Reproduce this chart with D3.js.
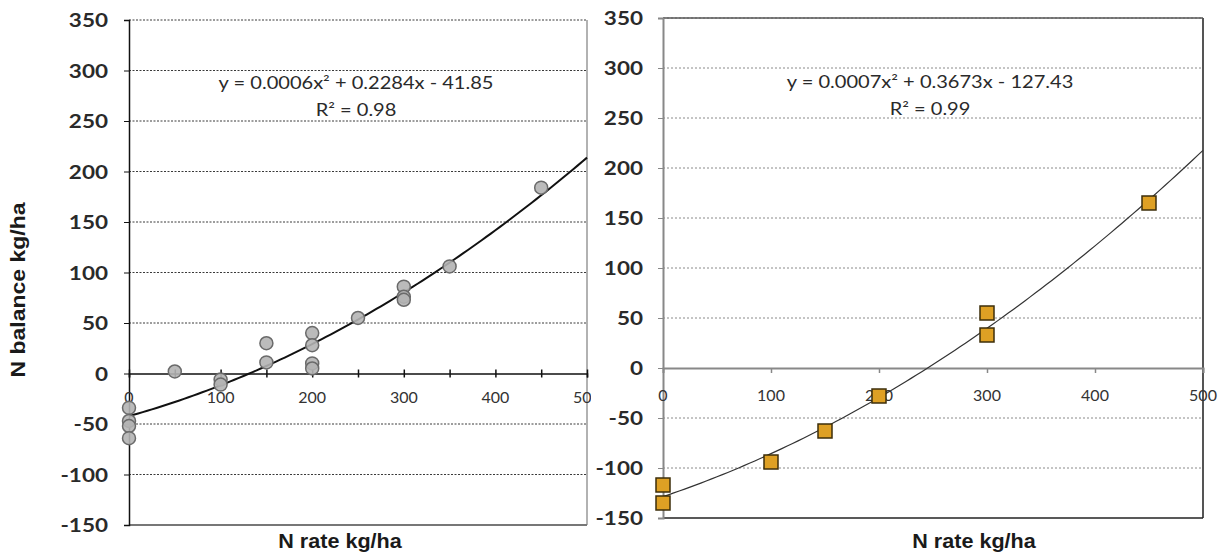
<!DOCTYPE html>
<html>
<head>
<meta charset="utf-8">
<script src="https://cdn.jsdelivr.net/npm/d3@7"></script>
<style>
  body { margin: 0; background: #fff; }
  svg { display: block; }
</style>
</head>
<body>
<svg id="chart" width="1224" height="555"></svg>
<script>
// left panel: grey circles
const leftRate = [0, 0, 0, 0, 50, 100, 100, 150, 150, 200, 200, 200, 200, 250, 300, 300, 300, 350, 450];
const leftBalance = [-34, -47, -52, -64, 2, -6, -11, 30, 11, 40, 28, 10, 5, 55, 86, 76, 73, 106, 184];
const leftEquation = "y = 0.0006x² + 0.2284x - 41.85";
const leftR2 = "R² = 0.98";

// right panel: orange squares
const rightRate = [0, 0, 100, 150, 200, 300, 300, 450];
const rightBalance = [-117, -135, -94, -63, -28, 55, 33, 165];
const rightEquation = "y = 0.0007x² + 0.3673x - 127.43";
const rightR2 = "R² = 0.99";

const yTicks = [-150, -100, -50, 0, 50, 100, 150, 200, 250, 300, 350];
const xTicks = [0, 100, 200, 300, 400, 500];
const xMinorTicks = [0, 50, 100, 150, 200, 250, 300, 350, 400, 450, 500];
const xTitle = "N rate kg/ha";
const yTitle = "N balance kg/ha";

const svg = d3.select("#chart");

// quadratic least squares, like the spreadsheet trendline
function fitQuad(xs, ys) {
  let s = [0, 0, 0, 0, 0], t = [0, 0, 0];
  xs.forEach((x, i) => {
    for (let k = 0; k < 5; k++) s[k] += Math.pow(x, k);
    for (let k = 0; k < 3; k++) t[k] += ys[i] * Math.pow(x, k);
  });
  const m = [[s[0], s[1], s[2], t[0]], [s[1], s[2], s[3], t[1]], [s[2], s[3], s[4], t[2]]];
  for (let i = 0; i < 3; i++) {
    for (let j = i + 1; j < 3; j++) {
      const f = m[j][i] / m[i][i];
      for (let k = i; k < 4; k++) m[j][k] -= f * m[i][k];
    }
  }
  const c = [0, 0, 0];
  for (let i = 2; i >= 0; i--) {
    let v = m[i][3];
    for (let k = i + 1; k < 3; k++) v -= m[i][k] * c[k];
    c[i] = v / m[i][i];
  }
  return x => c[0] + c[1] * x + c[2] * x * x;
}

// text with a horizontal stretch, the source picture is a bit wide
function label(g, x, y, txt, opts) {
  const o = Object.assign({ size: 16, weight: "normal", anchor: "middle", sx: 1, fill: "#222", family: "Lato, sans-serif", rotate: 0 }, opts);
  const t = g.append("g")
    .attr("transform", `translate(${x},${y}) rotate(${o.rotate}) scale(${o.sx},1)`)
    .append("text")
    .attr("text-anchor", o.anchor)
    .attr("dominant-baseline", "central")
    .attr("font-family", o.family)
    .attr("font-size", o.size)
    .attr("font-weight", o.weight)
    .attr("fill", o.fill)
    .text(txt);
  return t;
}

function panel(cfg) {
  const x = d3.scaleLinear().domain([0, 500]).range(cfg.xr);
  const y = d3.scaleLinear().domain([-150, 350]).range(cfg.yr);
  const g = svg.append("g");

  // gridlines
  g.selectAll(".grid")
    .data(yTicks.filter(d => d !== 0 && d !== -150))
    .join("line")
    .attr("x1", x(0)).attr("x2", x(500))
    .attr("y1", d => y(d)).attr("y2", d => y(d))
    .attr("stroke", cfg.gridColor)
    .attr("stroke-width", 1)
    .attr("stroke-dasharray", cfg.gridDash);

  // frame
  if (cfg.box) {
    g.append("line").attr("x1", x(0)).attr("x2", x(500)).attr("y1", y(350)).attr("y2", y(350))
      .attr("stroke", "#555").attr("stroke-width", 1.5);
    g.append("line").attr("x1", x(500)).attr("x2", x(500)).attr("y1", y(350)).attr("y2", y(-150))
      .attr("stroke", "#555").attr("stroke-width", 2);
    g.append("line").attr("x1", x(0)).attr("x2", x(500)).attr("y1", y(-150)).attr("y2", y(-150))
      .attr("stroke", "#222").attr("stroke-width", 1.5);
  } else {
    g.append("line").attr("x1", x(500)).attr("x2", x(500)).attr("y1", y(350)).attr("y2", y(-150))
      .attr("stroke", "#999").attr("stroke-width", 1.5);
    g.append("line").attr("x1", x(0)).attr("x2", x(500)).attr("y1", y(-150)).attr("y2", y(-150))
      .attr("stroke", "#777").attr("stroke-width", 2);
  }

  // y axis
  const yAxis = g.append("g")
    .attr("transform", `translate(${x(0)},0)`)
    .call(d3.axisLeft(y).tickValues(yTicks).tickSize(5).tickFormat(""));
  yAxis.select(".domain").attr("stroke", cfg.axisColor).attr("stroke-width", cfg.axisWidth);
  yAxis.selectAll(".tick line").attr("stroke", cfg.axisColor);
  yTicks.forEach(v => label(g, cfg.yLabelX, y(v), v, { size: 18, weight: "bold", anchor: "end", sx: 1.25, fill: "#2a2a2a" }));

  // x axis along zero
  const xAxis = g.append("g")
    .attr("transform", `translate(0,${y(0)})`)
    .call(d3.axisBottom(x).tickValues(cfg.box ? xTicks.slice(1) : xMinorTicks).tickSize(cfg.box ? 5 : 4).tickFormat(""));
  xAxis.select(".domain").attr("stroke", cfg.xAxisColor).attr("stroke-width", cfg.xAxisWidth);
  xAxis.selectAll(".tick line").attr("stroke", cfg.xAxisColor).attr("stroke-width", 1.5);
  if (!cfg.box) xAxis.selectAll(".tick line").attr("y1", -4);

  const xl = g.append("g");
  if (cfg.clipRight) {
    svg.append("clipPath").attr("id", "clipL").append("rect")
      .attr("x", 0).attr("y", 0).attr("width", cfg.clipRight).attr("height", 555);
    xl.attr("clip-path", "url(#clipL)");
  }
  xTicks.forEach(v => label(xl, x(v), y(0) + cfg.xLabelDy, v, { size: 16, fill: "#333" }));

  // trend line
  const f = fitQuad(cfg.rate, cfg.balance);
  const curve = d3.range(0, 501, 5);
  g.append("path")
    .attr("d", d3.line().x(d => x(d)).y(d => y(f(d)))(curve))
    .attr("fill", "none")
    .attr("stroke", cfg.lineColor)
    .attr("stroke-width", cfg.lineWidth);

  // points
  const pts = cfg.rate.map((r, i) => ({ r, b: cfg.balance[i] }));
  if (cfg.box) {
    g.selectAll(".pt").data(pts).join("rect")
      .attr("x", d => x(d.r) - 7).attr("y", d => y(d.b) - 7)
      .attr("width", 14).attr("height", 14)
      .attr("fill", "#dea024").attr("stroke", "#3d2e0a").attr("stroke-width", 1.5);
  } else {
    g.selectAll(".pt").data(pts).join("circle")
      .attr("cx", d => x(d.r)).attr("cy", d => y(d.b)).attr("r", 6.5)
      .attr("fill", "#b4b4b4").attr("stroke", "#6a6a6a").attr("stroke-width", 1.5)
      .attr("fill-opacity", 0.9);
  }

  // equation
  label(g, cfg.eqX, cfg.eqY, cfg.eq, { size: 17, sx: 1.18, fill: "#2a2a2a" });
  label(g, cfg.eqX, cfg.eqY + 27, cfg.r2, { size: 17, sx: 1.18, fill: "#2a2a2a" });

  // x title
  label(g, cfg.titleX, 541, xTitle, { size: 20, weight: "bold", sx: 1.08, family: "'Liberation Sans', Arial, sans-serif", fill: "#1a1a1a" });
}

panel({
  xr: [129, 587], yr: [525, 20], rate: leftRate, balance: leftBalance,
  gridColor: "#3a3a3a", gridDash: "2,1.5", box: false,
  axisColor: "#111", axisWidth: 1.5, xAxisColor: "#111", xAxisWidth: 1.5,
  yLabelX: 108, xLabelDy: 23, clipRight: 591,
  lineColor: "#111", lineWidth: 2,
  eq: leftEquation, r2: leftR2, eqX: 356, eqY: 83, titleX: 340
});

panel({
  xr: [663, 1203], yr: [518, 18], rate: rightRate, balance: rightBalance,
  gridColor: "#8a8a8a", gridDash: "2,2", box: true,
  axisColor: "#888", axisWidth: 2, xAxisColor: "#888", xAxisWidth: 2,
  yLabelX: 643, xLabelDy: 26, clipRight: null,
  lineColor: "#333", lineWidth: 1.2,
  eq: rightEquation, r2: rightR2, eqX: 930, eqY: 82, titleX: 974
});

// y title
label(svg, 18, 290, yTitle, { size: 20, weight: "bold", rotate: -90, sx: 1.15, family: "'Liberation Sans', Arial, sans-serif", fill: "#1a1a1a" });
</script>
</body>
</html>
